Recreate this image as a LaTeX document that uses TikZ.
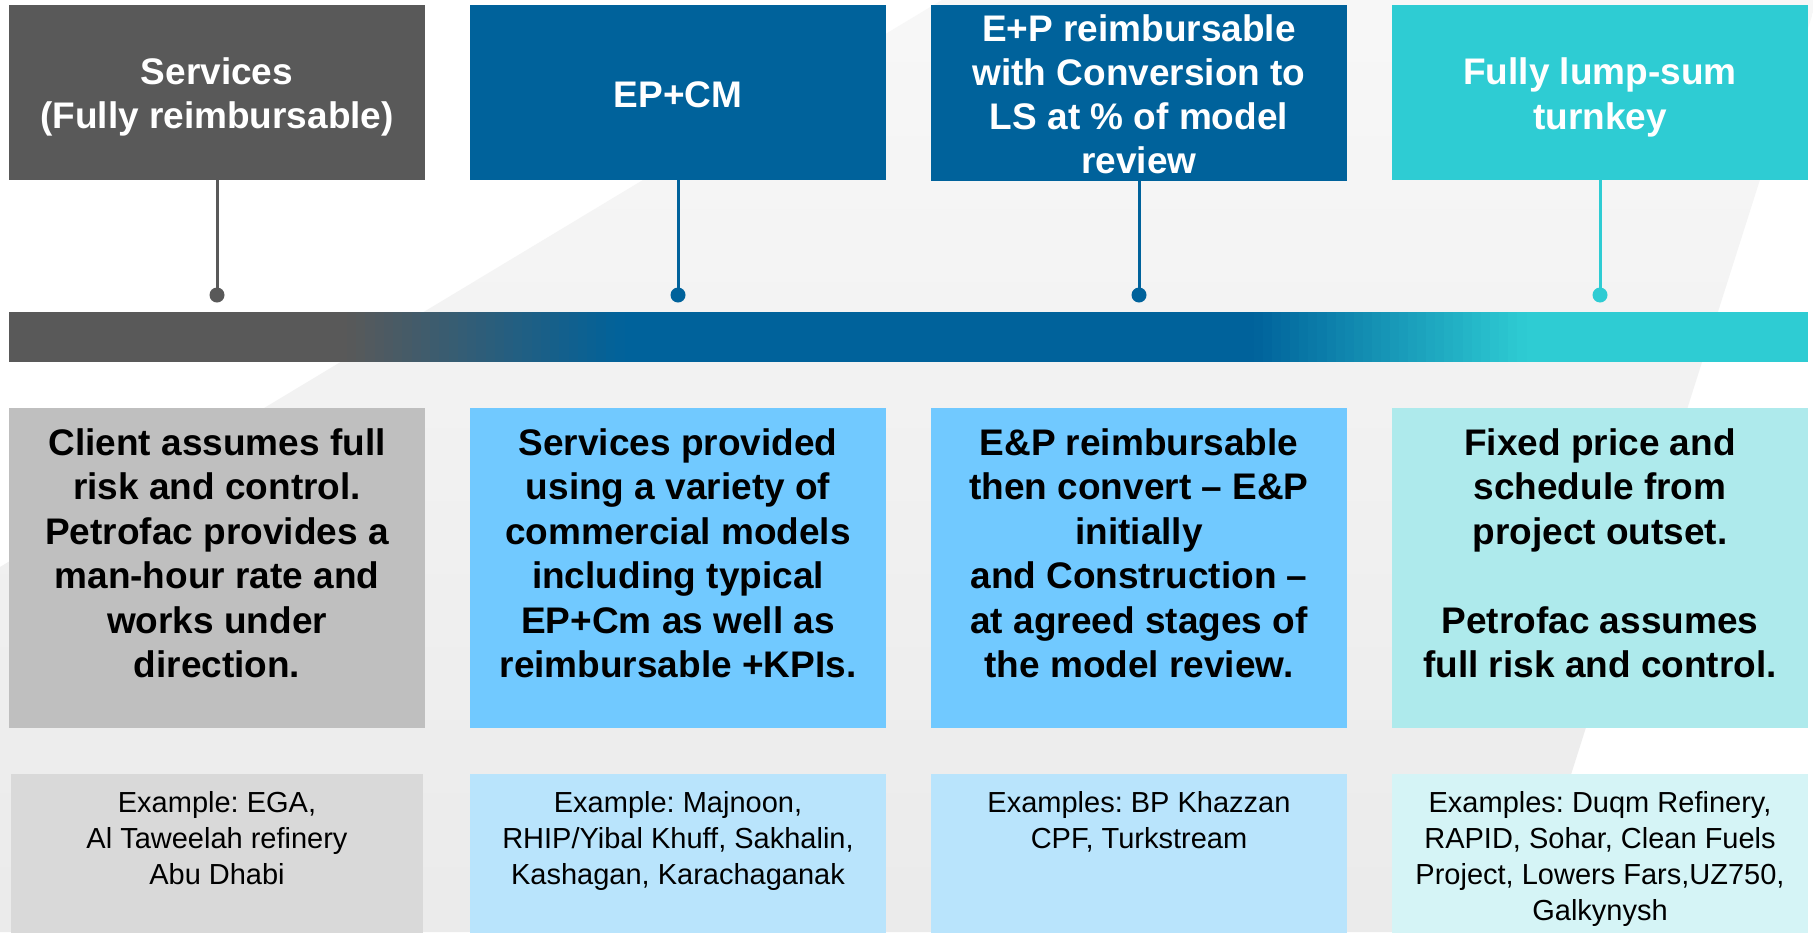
\documentclass[tikz,border=0pt]{standalone}
\usepackage{fontspec}
\setmainfont{Liberation Sans}
\definecolor{svcgrey}{HTML}{595959}
\definecolor{epblue}{HTML}{00629B}
\definecolor{lsteal}{HTML}{2ECCD3}
\definecolor{midgrey}{HTML}{BFBFBF}
\definecolor{midblue}{HTML}{71C9FF}
\definecolor{midteal}{HTML}{AEEAEC}
\definecolor{lowgrey}{HTML}{D9D9D9}
\definecolor{lowblue}{HTML}{B9E4FC}
\definecolor{lowteal}{HTML}{D5F4F6}
\newcommand\hstrut{\rule[-7.5pt]{0pt}{44pt}}
\begin{document}
\begin{tikzpicture}[x=1pt,y=-1pt,
    head/.style={fill=#1,minimum width=416pt,minimum height=175pt,inner sep=0pt,text=white,align=center,font=\fontsize{37}{44}\selectfont\bfseries\frenchspacing},
    stem/.style={draw=#1,line width=3pt},
    pin/.style={circle,fill=#1,minimum size=15pt,inner sep=0pt},
    riskbox/.style={fill=#1,minimum width=416pt,minimum height=320pt,inner sep=0pt},
    risktext/.style={anchor=north,inner sep=0pt,align=center,font=\fontsize{37}{44.5}\selectfont\bfseries\frenchspacing},
    exbox/.style={fill=#1,minimum width=416pt,minimum height=160pt,inner sep=0pt},
    extext/.style={anchor=north,inner sep=0pt,align=center,font=\fontsize{29}{36}\selectfont\frenchspacing}]
    \useasboundingbox[fill=white](0,0)rectangle(1813,932);
    % backdrop
    \shade[top color=black!3,bottom color=black!8](942,0)--(1817,0)--(1521,932)--(0,932)--(0,567)--cycle;
    % contract models
    \node[head=svcgrey](h1)at(217,92.5){\hstrut Services\\(Fully reimbursable)\hstrut};
    \node[head=epblue](h2)at(678,92.5){\hstrut EP+CM};
    \node[head=epblue](h3)at(1139,92.5){\hstrut E+P reimbursable\\with Conversion to\\LS at \% of model\\review\hstrut};
    \node[head=lsteal](h4)at(1600,92.5){\hstrut Fully lump-sum\\turnkey\hstrut};
    \node[pin=svcgrey](p1)at(217,295){};
    \node[pin=epblue](p2)at(678,295){};
    \node[pin=epblue](p3)at(1139,295){};
    \node[pin=lsteal](p4)at(1600,295){};
    \draw[stem=svcgrey](h1.south)--(p1.center);
    \draw[stem=epblue](h2.south)--(p2.center);
    \draw[stem=epblue](h3.south)--(p3.center);
    \draw[stem=lsteal](h4.south)--(p4.center);
    % risk bar
    \fill[svcgrey](9,312)rectangle(348,362);
    \fill[epblue](624,312)rectangle(1255,362);
    \fill[lsteal](1526,312)rectangle(1808,362);
    \foreach \i in {0,...,29}{
        \pgfmathsetmacro\pct{100*(\i+0.5)/30}
        \fill[epblue!\pct!svcgrey]({347+\i*277/30},312)rectangle({347.6+(\i+1)*277/30},362);
        \fill[lsteal!\pct!epblue]({1254+\i*272/30},312)rectangle({1254.6+(\i+1)*272/30},362);
    }
    % who carries the risk
    \node[riskbox=midgrey](r1)at(217,568){};
    \node[riskbox=midblue](r2)at(678,568){};
    \node[riskbox=midblue](r3)at(1139,568){};
    \node[riskbox=midteal](r4)at(1600,568){};
    \node[risktext](r1t)at([yshift=-16pt]r1.north){\strut Client assumes full\\risk and control.\\Petrofac provides a\\man-hour rate and\\works under\\direction.};
    \node[risktext](r2t)at([yshift=-16pt]r2.north){\strut Services provided\\using a variety of\\commercial models\\including typical\\EP+Cm as well as\\reimbursable +KPIs.};
    \node[risktext](r3t)at([yshift=-16pt]r3.north){\strut E\&P reimbursable\\then convert -- E\&P\\initially\\and Construction --\\at agreed stages of\\the model review.};
    \node[risktext](r4t)at([yshift=-16pt]r4.north){\strut Fixed price and\\schedule from\\project outset.\\\mbox{}\\Petrofac assumes\\full risk and control.};
    % examples
    \node[exbox=lowgrey,minimum width=412pt](e1)at(217,854){};
    \node[exbox=lowblue](e2)at(678,854){};
    \node[exbox=lowblue](e3)at(1139,854){};
    \node[exbox=lowteal](e4)at(1600,854){};
    \node[extext](e1t)at([yshift=-13pt]e1.north){\strut Example: EGA,\\Al Taweelah refinery\\Abu Dhabi};
    \node[extext](e2t)at([yshift=-13pt]e2.north){\strut Example: Majnoon,\\RHIP/Yibal Khuff, Sakhalin,\\Kashagan, Karachaganak};
    \node[extext](e3t)at([yshift=-13pt]e3.north){\strut Examples: BP Khazzan\\CPF, Turkstream};
    \node[extext](e4t)at([yshift=-13pt]e4.north){\strut Examples: Duqm Refinery,\\RAPID, Sohar, Clean Fuels\\Project, Lowers Fars,UZ750,\\Galkynysh};
\end{tikzpicture}
\end{document}
